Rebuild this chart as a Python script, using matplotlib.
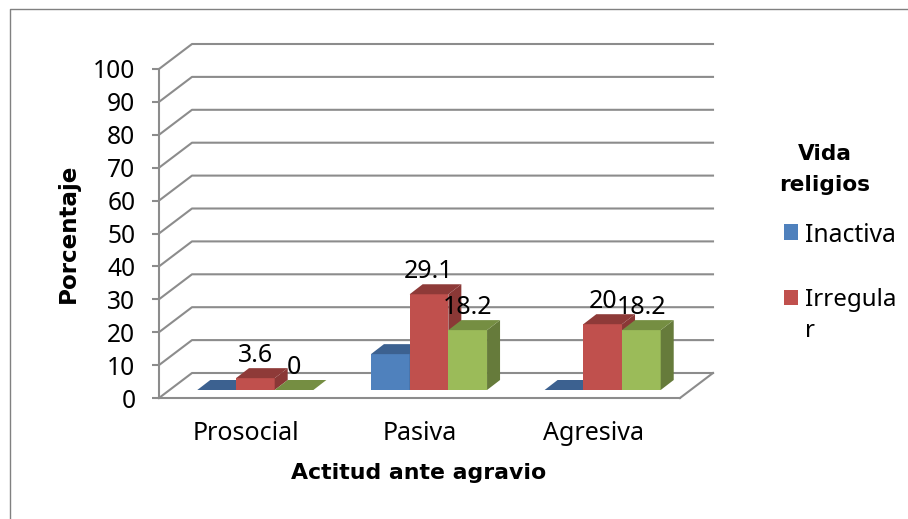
import matplotlib
matplotlib.use('Agg')
import matplotlib.pyplot as plt

plt.rcParams['font.family'] = ['Noto Sans', 'DejaVu Sans']

categorias = ['Prosocial', 'Pasiva', 'Agresiva']
inactiva = [0, 10.9, 0]
irregular = [3.6, 29.1, 20]
verde = [0, 18.2, 18.2]
etiquetas_irregular = ['3.6', '29.1', '20']
etiquetas_verde = ['0', '18.2', '18.2']
ticks_y = list(range(0, 101, 10))

W, H = 908, 519
gris = '#8c8c8c'
colores = [('#4f81bd', '#3c6190', '#3c6190'),
           ('#c0504d', '#8e3a38', '#8a3836'),
           ('#9bbb59', '#758e42', '#667b3b')]
negrita = {'family': 'DejaVu Sans', 'fontweight': 'bold'}

fig = plt.figure(figsize=(W / 100, H / 100), dpi=100)
ax = fig.add_axes([159 / W, (H - 398) / H, 521 / W, 329 / H])
ax.set_xlim(-0.5, 2.5)
ax.set_ylim(0, 100)

# paso de pixeles a unidades de los ejes
px_x = 3 / 521
px_y = 100 / 329

# pared del fondo y piso
fondo_x, fondo_y = 33 * px_x, 25 * px_y
for t in ticks_y:
    ax.plot([-0.5, -0.5 + fondo_x, 2.5 + fondo_x], [t, t + fondo_y, t + fondo_y],
            color=gris, lw=1.5, clip_on=False, zorder=1)
ax.plot([2.5, 2.5 + fondo_x], [0, fondo_y], color=gris, lw=1.5, clip_on=False, zorder=1)

# barras 3D
ancho = 38.7 * px_x
prof_x, prof_y = 13 * px_x, 10 * px_y
mov_x, mov_y = 9.5 * px_x, 8 * px_y
series = [inactiva, irregular, verde]
for i in range(len(categorias)):
    for j, valores in enumerate(series):
        v = valores[i]
        izq = i + mov_x + (j - 1.5) * ancho
        der = izq + ancho
        base = mov_y
        tope = base + v
        frente, arriba, lado = colores[j]
        z = 3 + i + j * 0.1
        if v > 0:
            ax.fill([izq, der, der, izq], [base, base, tope, tope], color=frente,
                    lw=0, clip_on=False, zorder=z)
            ax.fill([der, der + prof_x, der + prof_x, der],
                    [base, base + prof_y, tope + prof_y, tope], color=lado,
                    lw=0, clip_on=False, zorder=z)
        ax.fill([izq, der, der + prof_x, izq + prof_x],
                [tope, tope, tope + prof_y, tope + prof_y], color=arriba,
                lw=0, clip_on=False, zorder=z)

# etiquetas de datos
for j, (valores, etiquetas) in enumerate([(irregular, etiquetas_irregular), (verde, etiquetas_verde)]):
    for i, v in enumerate(valores):
        x = i + mov_x + j * ancho
        ax.text(x, v + mov_y + 26 * px_y, etiquetas[i], ha='center', va='center_baseline',
                fontsize=18, color='black', clip_on=False, zorder=10)

# ejes
for lado_eje in ['top', 'right']:
    ax.spines[lado_eje].set_visible(False)
for lado_eje in ['left', 'bottom']:
    ax.spines[lado_eje].set_color(gris)
    ax.spines[lado_eje].set_linewidth(1.5)
ax.set_facecolor('none')
ax.set_yticks(ticks_y)
ax.set_xticks(range(3))
ax.set_xticklabels(categorias)
ax.tick_params(axis='y', length=5, width=1.5, color=gris, pad=12, labelsize=17.7)
ax.tick_params(axis='x', length=0, pad=16.5, labelsize=18)
for lab in ax.get_yticklabels():
    lab.set_verticalalignment('center_baseline')

# titulos de ejes
fig.text(68 / W, 1 - 233 / H, 'Porcentaje', rotation=90, ha='center', va='center',
         fontsize=16.6, **negrita)
fig.text(419 / W, 1 - 473 / H, 'Actitud ante agravio', ha='center', va='center',
         fontsize=15.8, **negrita)

# leyenda
fig.text(825 / W, 1 - 152 / H, 'Vida', ha='center', va='center_baseline', fontsize=15.6, **negrita)
fig.text(825 / W, 1 - 183 / H, 'religios', ha='center', va='center_baseline', fontsize=15.6, **negrita)
for y_px, color in [(232, colores[0][0]), (297, colores[1][0])]:
    fig.patches.append(plt.Rectangle((784 / W, 1 - (y_px + 7.5) / H), 14 / W, 15 / H,
                                     transform=fig.transFigure, color=color, lw=0))
fig.text(805 / W, 1 - 232 / H, 'Inactiva', ha='left', va='center_baseline', fontsize=17.8)
fig.text(805 / W, 1 - 297 / H, 'Irregula', ha='left', va='center_baseline', fontsize=17.3)
fig.text(805 / W, 1 - 328 / H, 'r', ha='left', va='center_baseline', fontsize=17.3)

# marco exterior
fig.add_artist(plt.Line2D([909 / W, 9.5 / W, 9.5 / W], [1 - 8.5 / H, 1 - 8.5 / H, -0.01],
                          color='#808080', lw=1))

fig.savefig('out.png', dpi=100)
